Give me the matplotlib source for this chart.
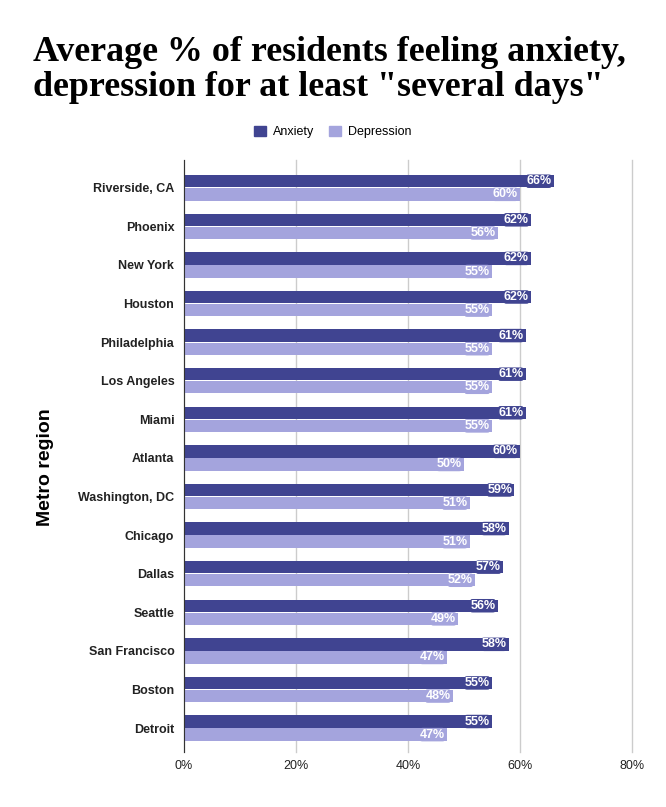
import matplotlib
matplotlib.use("Agg")
import matplotlib.pyplot as plt
import numpy as np
from matplotlib.patches import Patch

regions = ["Riverside, CA", "Phoenix", "New York", "Houston", "Philadelphia",
           "Los Angeles", "Miami", "Atlanta", "Washington, DC", "Chicago",
           "Dallas", "Seattle", "San Francisco", "Boston", "Detroit"]
anxiety = [66, 62, 62, 62, 61, 61, 61, 60, 59, 58, 57, 56, 58, 55, 55]
depression = [60, 56, 55, 55, 55, 55, 55, 50, 51, 51, 52, 49, 47, 48, 47]
x_ticks = [0, 20, 40, 60, 80]

c_anx = "#404491"
c_dep = "#a4a4dd"

plt.rcParams["font.family"] = ["Liberation Sans", "DejaVu Sans"]

fig = plt.figure(figsize=(6.66, 8.07), dpi=100)
ax = fig.add_axes([184 / 666, 1 - 752 / 807, (632 - 184) / 666, (752 - 160) / 807])

y = np.arange(len(regions))
h = 0.32
ax.barh(y - 0.17, anxiety, height=h, color=c_anx, zorder=3)
ax.barh(y + 0.17, depression, height=h, color=c_dep, zorder=3)

for yi, a, d in zip(y, anxiety, depression):
    ax.text(a - 0.4, yi - 0.17, f"{a}%", ha="right", va="center", color="white",
            fontsize=9, fontweight="bold", zorder=4,
            bbox=dict(boxstyle="round,pad=0.06,rounding_size=0.25", fc=c_anx, ec="none"))
    ax.text(d - 0.4, yi + 0.17, f"{d}%", ha="right", va="center", color="white",
            fontsize=9, fontweight="bold", zorder=4,
            bbox=dict(boxstyle="round,pad=0.06,rounding_size=0.25", fc=c_dep, ec="none"))

ax.set_xlim(0, 80)
ax.set_ylim(14.62, -0.72)
ax.set_xticks(x_ticks)
ax.set_xticklabels([f"{t}%" for t in x_ticks], fontsize=9, color="#222222")
ax.set_yticks(y)
ax.set_yticklabels(regions, fontsize=9, fontweight="bold", color="#222222")
ax.tick_params(axis="both", length=0, pad=6)
ax.tick_params(axis="y", pad=7)
for gl in ax.get_xgridlines():
    gl.set_clip_on(False)
ax.grid(axis="x", color="#cccccc", linewidth=1, zorder=0)
for s in ["top", "right", "bottom"]:
    ax.spines[s].set_visible(False)
ax.spines["left"].set_color("#333333")
ax.spines["left"].set_zorder(5)

fig.text(45 / 666, 1 - 467 / 807, "Metro region", rotation=90, ha="center", va="center",
         fontsize=14, fontweight="bold")

fig.text(33 / 666, 1 - 36 / 807,
         "Average % of residents feeling anxiety,\ndepression for at least \"several days\"",
         ha="left", va="top", fontsize=25.8, fontweight="bold",
         family="Liberation Serif", linespacing=1.06)

handles = [Patch(color=c_anx, label="Anxiety"), Patch(color=c_dep, label="Depression")]
fig.legend(handles=handles, loc="center", bbox_to_anchor=(0.5, 1 - 132 / 807), ncol=2,
           frameon=False, fontsize=9, handlelength=0.9, handleheight=0.9,
           columnspacing=1.2, handletextpad=0.6)

fig.savefig("out.png", dpi=100)
plt.close(fig)
